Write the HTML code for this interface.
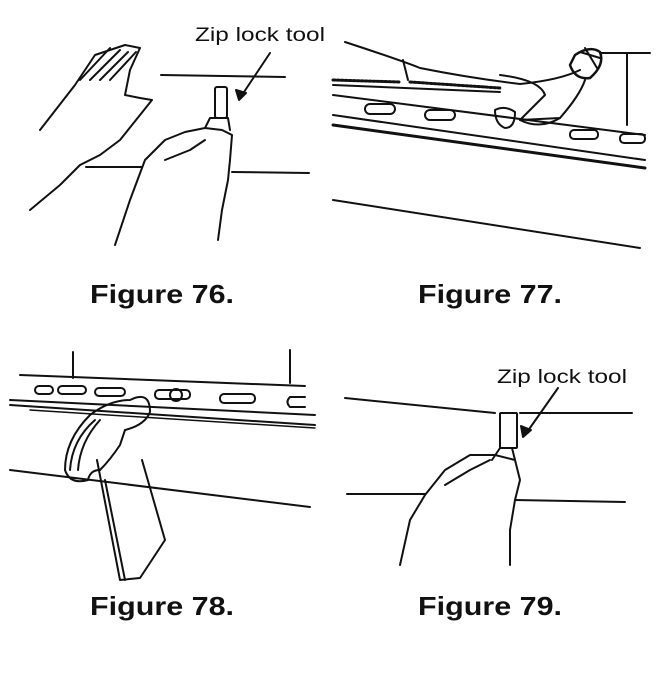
<!DOCTYPE html>
<html><head><meta charset="utf-8"><style>
html,body{margin:0;padding:0;background:#fff;}
svg{display:block}
text{font-family:"Liberation Sans",sans-serif;fill:#111}
</style></head><body>
<svg width="670" height="674" viewBox="0 0 670 674" xmlns="http://www.w3.org/2000/svg" fill="none" stroke="#111" stroke-width="2" stroke-linecap="round" stroke-linejoin="round">
<!-- Figure 76 -->
<text x="195" y="41" font-size="19" stroke="none" textLength="130" lengthAdjust="spacingAndGlyphs">Zip lock tool</text>
<line x1="161" y1="75" x2="285" y2="77"/>
<line x1="86" y1="167" x2="142" y2="167"/>
<line x1="232" y1="172" x2="309" y2="173"/>
<line x1="270" y1="53" x2="240" y2="98"/>
<path d="M236 90 L239 100 L246 93 Z" fill="#111"/>
<path d="M40 130 L75 85 L95 55 L125 45 L140 48 L130 70 L125 95 L140 98 L152 100 L140 115 L120 140 L100 155 L80 165 L60 185 L30 210"/>
<path d="M80 80 L110 48 M90 80 L120 50 M100 80 L128 52 M110 80 L136 52"/>
<rect x="215" y="87" width="12" height="31" rx="2"/>
<path d="M205 128 L210 118 L228 118 L230 130"/>
<path d="M115 245 L130 200 L145 160 L165 140 L185 132 L205 128 L222 130 L232 135 L230 160 L228 180 L222 210 L218 240"/>
<path d="M165 160 L190 150 L205 140"/>
<!-- Figure 77 -->
<path d="M345 42 Q400 60 420 68 Q470 78 520 84 Q560 80 580 70"/>
<path d="M575 55 Q590 45 600 52 Q605 65 590 78 Q575 80 570 65 Z" stroke-width="2.5"/>
<line x1="585" y1="48" x2="597" y2="68"/>
<line x1="580" y1="52" x2="600" y2="58"/>
<line x1="600" y1="53" x2="650" y2="53"/>
<line x1="627" y1="53" x2="627" y2="125"/>
<path d="M403 60 L408 80"/>
<path d="M333 85 L500 92"/>
<path d="M333 80 L400 82 M410 82 L500 88" stroke-dasharray="2 2" stroke-width="3"/>
<path d="M333 95 L645 135"/>
<path d="M333 115 L645 160"/>
<path d="M333 125 L645 168" stroke-width="3"/>
<rect x="365" y="104" width="30" height="10" rx="5"/>
<rect x="425" y="110" width="30" height="10" rx="5"/>
<rect x="570" y="130" width="28" height="9" rx="4"/>
<rect x="620" y="134" width="25" height="9" rx="4"/>
<path d="M495 110 Q505 105 515 112 Q515 128 505 128 Q495 124 495 110 Z"/>
<path d="M500 75 Q540 80 545 95 L520 120 L560 118 Q580 95 585 80"/>
<path d="M520 120 Q540 130 560 118"/>
<line x1="333" y1="200" x2="640" y2="248"/>
<!-- Figure 78 -->
<line x1="73" y1="352" x2="73" y2="378"/>
<line x1="290" y1="350" x2="290" y2="383"/>
<path d="M20 375 L305 386"/>
<path d="M10 400 L315 415"/>
<path d="M10 405 L315 425"/>
<path d="M30 410 L315 428" stroke-width="1.5"/>
<rect x="35" y="386" width="18" height="8" rx="4"/>
<rect x="58" y="386" width="28" height="8" rx="4"/>
<rect x="95" y="388" width="30" height="8" rx="4"/>
<rect x="155" y="390" width="35" height="9" rx="4"/>
<rect x="220" y="394" width="35" height="9" rx="4"/>
<path d="M305 397 L290 397 Q285 402 290 407 L305 407"/>
<circle cx="176" cy="395" r="6"/>
<path d="M130 400 Q150 390 150 412 Q145 425 125 430 L120 445 Q110 460 100 470 Q90 470 88 480 Q70 485 65 470 Q65 440 90 415 Q110 400 130 400 Z"/>
<path d="M70 470 Q72 440 95 420 M78 470 Q80 442 100 420"/>
<path d="M97 460 L120 580 L140 578 L165 540 L142 460"/>
<path d="M105 480 L125 580"/>
<line x1="10" y1="470" x2="310" y2="507"/>
<!-- Figure 79 -->
<text x="497" y="383" font-size="19" stroke="none" textLength="130" lengthAdjust="spacingAndGlyphs">Zip lock tool</text>
<line x1="345" y1="398" x2="495" y2="413"/>
<line x1="520" y1="413" x2="632" y2="413"/>
<line x1="347" y1="494" x2="425" y2="494"/>
<line x1="515" y1="500" x2="625" y2="502"/>
<line x1="558" y1="388" x2="525" y2="435"/>
<path d="M521 426 L523 437 L531 430 Z" fill="#111"/>
<rect x="500" y="413" width="17" height="35" rx="1"/>
<path d="M492 460 L500 448 L512 448 L515 460"/>
<path d="M400 565 L410 520 L425 495 L445 470 L470 455 L495 455 L515 460 L520 480 L515 500 L510 530 L510 565"/>
<path d="M445 485 L470 470 L490 460"/>
<!-- captions -->
<text x="90" y="303" font-size="26" font-weight="bold" stroke="none" textLength="144" lengthAdjust="spacingAndGlyphs">Figure 76.</text>
<text x="418" y="303" font-size="26" font-weight="bold" stroke="none" textLength="144" lengthAdjust="spacingAndGlyphs">Figure 77.</text>
<text x="90" y="615" font-size="26" font-weight="bold" stroke="none" textLength="144" lengthAdjust="spacingAndGlyphs">Figure 78.</text>
<text x="418" y="615" font-size="26" font-weight="bold" stroke="none" textLength="144" lengthAdjust="spacingAndGlyphs">Figure 79.</text>
</svg>
</body></html>
